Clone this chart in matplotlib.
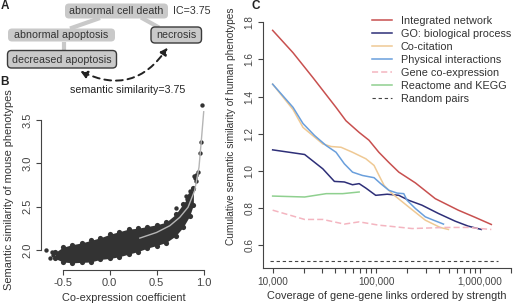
import matplotlib
matplotlib.use("Agg")
import matplotlib.pyplot as plt
from matplotlib.patches import FancyBboxPatch, FancyArrowPatch

plt.rcParams['font.family'] = ['Liberation Sans', 'DejaVu Sans']

W, H = 515, 306

# ---- panel A: ontology diagram (pixel layout) ----
node_names = ["abnormal cell death", "abnormal apoptosis", "necrosis", "decreased apoptosis"]
node_boxes = [(65, 3.5, 103, 15), (8, 28.5, 107, 13), (151, 27, 50.5, 16), (7.5, 50.5, 109, 17.5)]
node_border = [False, False, True, True]
edges = [((100, 18), (70, 28.5)), ((141, 17.5), (159, 27.5)), ((64, 41.5), (64, 50.5))]
ic_text = "IC=3.75"
sim_text = "semantic similarity=3.75"

# ---- panel B: mouse phenotype similarity vs co-expression ----
cloud_x = [-0.58, -0.5, -0.4, -0.3, -0.2, -0.1, 0.0, 0.1, 0.2, 0.3, 0.4, 0.5, 0.6, 0.7, 0.78, 0.85, 0.89]
cloud_lo = [1.90, 1.86, 1.85, 1.855, 1.86, 1.89, 1.90, 1.92, 1.95, 1.98, 2.02, 2.05, 2.085, 2.16, 2.26, 2.39, 2.52]
cloud_hi = [1.97, 2.03, 2.06, 2.08, 2.11, 2.14, 2.18, 2.21, 2.24, 2.25, 2.27, 2.29, 2.32, 2.41, 2.53, 2.63, 2.72]
outlier_x = [-0.677, -0.64, -0.617, -0.6, 0.70, 0.816, 0.827, 0.844, 0.851, 0.869, 0.886,
             0.897, 0.904, 0.915, 0.922, 0.94, 0.958, 0.968, 0.986]
outlier_y = [2.0, 1.91, 1.97, 1.94, 2.485, 2.628, 2.59, 2.608, 2.686, 2.648, 2.706,
             2.849, 2.834, 2.80, 2.86, 2.899, 3.124, 3.248, 3.674]
fit_x = [0.32, 0.498, 0.639, 0.745, 0.833, 0.904, 0.95, 0.975, 1.0]
fit_y = [2.136, 2.201, 2.279, 2.376, 2.492, 2.686, 2.957, 3.267, 3.597]

# ---- panel C: cumulative similarity vs coverage ----
int_x = [10000, 15700, 24500, 40900, 51000, 68400, 85100, 106000, 132400, 165200, 238800, 371500, 619400, 895400, 1291000]
int_y = [1.757, 1.637, 1.502, 1.342, 1.27, 1.207, 1.165, 1.10, 1.045, 0.993, 0.935, 0.85, 0.788, 0.75, 0.711]
go_x = [10000, 20370, 30480, 39450, 49200, 59020, 68390, 79430, 98860, 127600, 165200, 206100, 276100, 399000, 576800, 772700, 1035000]
go_y = [1.113, 1.088, 1.011, 0.943, 0.94, 0.925, 0.931, 0.907, 0.868, 0.874, 0.868, 0.841, 0.815, 0.77, 0.729, 0.702, 0.684]
cocit_x = [10000, 15740, 19630, 30480, 36730, 45710, 59020, 79430, 95280, 106400, 118900, 132400, 142600, 206100, 297800, 414000, 497700]
cocit_y = [1.467, 1.33, 1.234, 1.145, 1.131, 1.127, 1.10, 1.065, 1.029, 0.975, 0.922, 0.895, 0.877, 0.805, 0.734, 0.695, 0.684]
phys_x = [10000, 15740, 19630, 25410, 32890, 40930, 49200, 59020, 73620, 95280, 110400, 132400, 159200, 184500, 198600, 238800, 297800, 357300, 445700]
phys_y = [1.467, 1.342, 1.255, 1.19, 1.136, 1.10, 1.038, 0.993, 0.975, 0.963, 0.931, 0.895, 0.88, 0.877, 0.841, 0.797, 0.752, 0.734, 0.713]
coexp_x = [10000, 20370, 30480, 49200, 68390, 106400, 132400, 221800, 462400, 772700, 1291000]
coexp_y = [0.788, 0.738, 0.738, 0.713, 0.725, 0.707, 0.702, 0.689, 0.695, 0.695, 0.684]
kegg_x = [10000, 20370, 32890, 47420, 68390]
kegg_y = [0.864, 0.859, 0.877, 0.877, 0.886]
rand_x = [9500, 1500000]
rand_y = [0.516, 0.516]


def frac(x0, y0, x1, y1):
    return [x0 / W, 1 - y1 / H, (x1 - x0) / W, (y1 - y0) / H]


fig = plt.figure(figsize=(W / 100, H / 100), dpi=100)

# overlay for diagram and panel letters
ov = fig.add_axes([0, 0, 1, 1])
ov.set_xlim(0, W)
ov.set_ylim(H, 0)
ov.axis('off')

box_fc = '#c9c9c9'
for (a, b) in edges:
    ov.plot([a[0], b[0]], [a[1], b[1]], color=box_fc, lw=3, solid_capstyle='butt', zorder=1)
for name, (x0, y0, w, h), border in zip(node_names, node_boxes, node_border):
    p = FancyBboxPatch((x0, y0), w, h, boxstyle='round,pad=0,rounding_size=4',
                       fc=box_fc, ec='#3a3a3a' if border else 'none', lw=1.0, zorder=2)
    ov.add_patch(p)
    ov.text(x0 + w / 2, y0 + h / 2 + 0.5, name, ha='center', va='center', fontsize=7.7,
            color='#333333', zorder=3)
ov.text(173, 11, ic_text, ha='left', va='center', fontsize=7.7, color='#333333')
arr = FancyArrowPatch((78, 70), (169, 45.5), connectionstyle='arc3,rad=0.45',
                      arrowstyle='<|-|>,head_length=4,head_width=2.2', linestyle=(0, (3.5, 2.5)),
                      lw=1.4, color='#222222', zorder=3)
ov.add_patch(arr)
ov.text(128, 90, sim_text, ha='center', va='center', fontsize=7.7, color='#222222')

for lab, (x, y) in zip(["A", "B", "C"], [(0.5, 6), (0.5, 82), (252, 6)]):
    ov.text(x, y, lab, ha='left', va='center', fontsize=8.5, fontweight='bold', color='#222222')

# ---- panel B ----
axb = fig.add_axes(frac(40.5, 100, 210, 270))
dark = '#333333'
axb.fill_between(cloud_x, cloud_lo, cloud_hi, color=dark, lw=0, zorder=1)
axb.scatter(cloud_x + cloud_x, cloud_lo + cloud_hi, s=14, color=dark, lw=0, zorder=2)
axb.scatter(outlier_x, outlier_y, s=10, color=dark, lw=0, zorder=2)
axb.plot(fit_x, fit_y, color='#b5b5b5', lw=1.0, zorder=3)
axb.set_xlim(-0.737, 1.067)
axb.set_ylim(1.767, 3.733)
axb.set_xticks([-0.5, 0.0, 0.5, 1.0])
axb.set_xticklabels(["-0.5", "0.0", "0.5", "1.0"])
axb.set_yticks([2.0, 2.5, 3.0, 3.5])
axb.set_yticklabels(["2.0", "2.5", "3.0", "3.5"])
for s in ['top', 'right']:
    axb.spines[s].set_visible(False)
axb.spines['left'].set_bounds(2.0, 3.5)
axb.spines['bottom'].set_bounds(-0.5, 1.0)
axb.set_ylabel("Semantic similarity of mouse phenotypes", fontsize=7.9, color='#333333')
axb.set_xlabel("Co-expression coefficient", fontsize=7.9, color='#333333')
axb.yaxis.set_label_coords(-(40.5 - 9) / 169.5, (270 - 190) / 170)
axb.xaxis.set_label_coords((124 - 40.5) / 169.5, -(298 - 270) / 170)
axb.xaxis.label.set_va('center')
axb.yaxis.label.set_va('center')

# ---- panel C ----
axc = fig.add_axes(frac(263, 22, 511, 267.7))
axc.set_xscale('log')
axc.plot(int_x, int_y, color='#c8504f', lw=1.1, label='Integrated network')
axc.plot(go_x, go_y, color='#2e2f78', lw=1.1, label='GO: biological process')
axc.plot(cocit_x, cocit_y, color='#efc994', lw=1.1, label='Co-citation')
axc.plot(phys_x, phys_y, color='#6a9fdc', lw=1.1, label='Physical interactions')
axc.plot(coexp_x, coexp_y, color='#f4b5c0', lw=1.1, ls=(0, (4, 2)), label='Gene co-expression')
axc.plot(kegg_x, kegg_y, color='#8fd08f', lw=1.1, label='Reactome and KEGG')
axc.plot(rand_x, rand_y, color='#444444', lw=0.8, ls=(0, (3, 2.5)), label='Random pairs')
axc.set_xlim(8070, 2.0e6)
axc.set_ylim(0.478, 1.802)
axc.set_xticks([1e4, 1e5, 1e6])
axc.set_xticklabels(["10,000", "100,000", "1,000,000"])
minor = [m * d for d in (1e4, 1e5) for m in range(2, 10)] + [2e6]
axc.set_xticks(minor, minor=True)
axc.set_xticklabels([], minor=True)
axc.set_yticks([0.6, 0.8, 1.0, 1.2, 1.4, 1.6, 1.8])
axc.set_yticklabels(["0.6", "0.8", "1.0", "1.2", "1.4", "1.6", "1.8"])
for s in ['top', 'right']:
    axc.spines[s].set_visible(False)
axc.set_ylabel("Cumulative semantic similarity of human phenotypes", fontsize=7.3, color='#333333')
axc.set_xlabel("Coverage of gene-gene links ordered by strength", fontsize=7.9, color='#333333')
axc.yaxis.set_label_coords(-(263 - 231) / 248, (267.7 - 126) / 245.7)
axc.xaxis.set_label_coords(0.5, -(296 - 267.7) / 245.7)
axc.xaxis.label.set_va('center')
axc.yaxis.label.set_va('center')
axc.legend(loc='upper left', bbox_to_anchor=(372 / W, 1 - 16 / H), bbox_transform=fig.transFigure,
           frameon=False, fontsize=7.8, handlelength=1.85, handletextpad=0.8,
           labelspacing=0.27, borderpad=0, borderaxespad=0, labelcolor='#333333')

for ax, fs in [(axb, 8.0), (axc, 7.2)]:
    for s in ['left', 'bottom']:
        ax.spines[s].set_color('#444444')
        ax.spines[s].set_linewidth(0.8)
    ax.tick_params(which='both', direction='out', length=3.5, width=0.8, color='#444444',
                   labelsize=fs, labelcolor='#444444', pad=2.5)
    for t in ax.get_yticklabels():
        t.set_rotation(90)
        t.set_va('center')

fig.savefig('out.png', dpi=100)
